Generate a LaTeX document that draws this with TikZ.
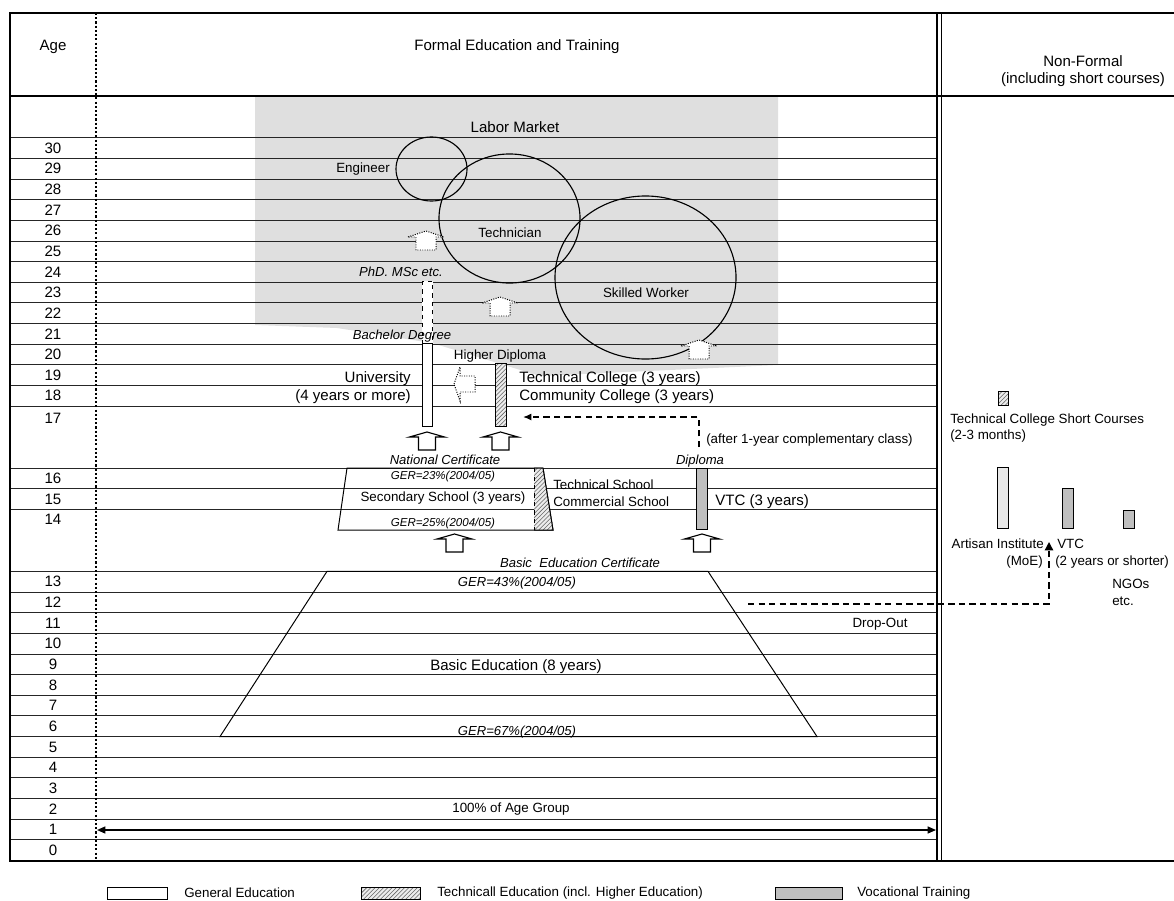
\documentclass[tikz,border=0pt]{standalone}
\usepackage{fontspec}
\setmainfont{Liberation Sans}
\usetikzlibrary{arrows.meta,patterns}
\tikzset{
  frame/.style={line width=1.8pt},
  rowline/.style={line width=0.6pt, draw=black!85},
  agelabel/.style={font=\fontsize{10.7}{12}\selectfont, inner sep=0pt},
  lbl/.style={font=\fontsize{9.5}{11}\selectfont, inner sep=0pt},
  biglbl/.style={font=\fontsize{10.7}{12.5}\selectfont, inner sep=0pt},
  itlbl/.style={font=\fontsize{9.3}{11}\selectfont\itshape, inner sep=0pt},
  gerlbl/.style={font=\fontsize{8.2}{10}\selectfont\itshape, inner sep=0pt},
  general/.style={draw, line width=0.7pt, fill=white},
  technical/.style={draw, line width=0.7pt, preaction={fill=gray!15}, pattern=north east lines, pattern color=black!60},
  vocational/.style={draw, line width=0.7pt, fill=black!25},
  artisan/.style={draw, line width=0.7pt, fill=gray!18},
  ring/.style={line width=0.8pt},
  dashconn/.style={line width=1pt, dash pattern=on 4.5pt off 3pt},
  blockup/.pic={\draw[line width=0.8pt, fill=white] (-17.5,5) -- (0,0) -- (17.5,5) -- (8.5,5) -- (8.5,18) -- (-8.5,18) -- (-8.5,5) -- cycle;},
  dotup/.pic={\draw[line width=0.7pt, densely dotted, fill=white] (-18,6) -- (0,0) -- (18,6) -- (10,6) -- (10,19) -- (-10,19) -- (-10,6) -- cycle;},
  dotleft/.pic={\draw[line width=0.7pt, densely dotted, fill=white] (0,0) -- (6,-17) -- (6,-8) -- (21,-8) -- (21,8) -- (6,8) -- (6,17) -- cycle;}
}

\begin{document}
\begin{tikzpicture}[x=0.025cm, y=-0.025cm]
  \useasboundingbox (0,0) rectangle (1174,900);
  \clip (0,0) rectangle (1174,900);

  \fill[gray!25] (255,96) -- (778,96) -- (778,365) -- (540,376) -- (432,343) -- (337,328) -- (255,325) -- cycle;

  \foreach \i in {0,...,13} \draw[rowline] (10,{137.7+\i*20.65}) -- (937,{137.7+\i*20.65});
  \foreach \yy in {468.1,488.75,509.4} \draw[rowline] (10,\yy) -- (937,\yy);
  \foreach \i in {0,...,13} \draw[rowline] (10,{571.35+\i*20.65}) -- (937,{571.35+\i*20.65});

  \draw[frame] (10,13) rectangle (1185,861);
  \draw[line width=1.3pt] (10,96) -- (1185,96);
  \draw[line width=1.6pt, dash pattern=on 1.5pt off 1.5pt] (96,13) -- (96,861);
  \draw[line width=1pt] (937,13) -- (937,861);
  \draw[line width=1pt] (941.5,13) -- (941.5,861);

  \node[agelabel] (hage) at (53,47) {Age};
  \node[biglbl] (hformal) at (517,47) {Formal Education and Training};
  \node[biglbl, align=center] (hnonformal) at (1083,71) {Non-Formal\\(including short courses)};

  \foreach \a [count=\i from 0] in {30,29,...,18} \node[agelabel] (age\a) at (53,{148+\i*20.65}) {\a};
  \node[agelabel] (age17) at (53,418) {17};
  \node[agelabel] (age16) at (53,478.4) {16};
  \node[agelabel] (age15) at (53,499) {15};
  \node[agelabel] (age14) at (53,519.7) {14};
  \foreach \a [count=\i from 0] in {13,12,...,0} \node[agelabel] (age\a) at (53,{581.7+\i*20.65}) {\a};

  \draw[ring] (431.5,169) ellipse [x radius=0.8875cm, y radius=0.8cm];
  \draw[ring] (509.5,218.5) ellipse [x radius=1.7625cm, y radius=1.6125cm];
  \draw[ring] (645.5,277.5) ellipse [x radius=2.2625cm, y radius=2.0375cm];

  \pic at (426,231) {dotup};
  \pic at (500,297) {dotup};
  \pic at (699,340) {dotup};
  \pic at (454,384) {dotleft};

  \draw[line width=0.7pt, dashed, fill=white] (422,281) rectangle (432.7,343);
  \draw[general] (422,343) rectangle (432.7,426);
  \draw[technical] (495,363) rectangle (506,426);

  \pic at (427,432) {blockup};
  \pic at (500.5,432) {blockup};
  \pic at (454.5,534) {blockup};
  \pic at (702,534) {blockup};

  \draw[line width=0.7pt] (347,468.1) -- (543,468.1) -- (553,530) -- (338,530) -- cycle;
  \draw[technical] (534,468.1) -- (543,468.1) -- (553,530) -- (534,530);
  \draw[line width=0.7pt, dashed] (534,468.1) -- (534,530);
  \draw[vocational] (696,468) rectangle (707,529);

  \draw[line width=0.7pt] (327,571.35) -- (708,571.35) -- (817,736.55) -- (220,736.55) -- cycle;

  \node[biglbl] (market) at (515,127) {Labor Market};
  \node[lbl] (engineer) at (363,169) {Engineer};
  \node[lbl] (technician) at (510,233) {Technician};
  \node[lbl] (skilled) at (646,293) {Skilled Worker};
  \node[itlbl] (phd) at (401,272) {PhD. MSc etc.};
  \node[itlbl] (bachelor) at (402,336) {Bachelor Degree};
  \node[lbl] (hdiploma) at (500,356) {Higher Diploma};
  \node[biglbl, anchor=east] (univ) at (411,379) {University};
  \node[biglbl, anchor=east] (univyrs) at (411,397) {(4 years or more)};
  \node[biglbl, anchor=west] (tcollege) at (519,379) {Technical College (3 years)};
  \node[biglbl, anchor=west] (ccollege) at (519,397) {Community College (3 years)};
  \node[lbl, anchor=west] (compl) at (706,440) {(after 1-year complementary class)};
  \node[itlbl] (natcert) at (445,460) {National Certificate};
  \node[itlbl] (diploma) at (700,461) {Diploma};
  \node[gerlbl] (ger23) at (443,477) {GER=23\%(2004/05)};
  \node[lbl] (secondary) at (443,498) {Secondary School (3 years)};
  \node[gerlbl] (ger25) at (443,524) {GER=25\%(2004/05)};
  \node[lbl, anchor=west] (techschool) at (553,485) {Technical School};
  \node[lbl, anchor=west] (commschool) at (553,502) {Commercial School};
  \node[biglbl, anchor=west] (vtc) at (715,502) {VTC (3 years)};
  \node[itlbl] (basiccert) at (580,563) {Basic\ \ Education Certificate};
  \node[itlbl] (ger43) at (517,583) {GER=43\%(2004/05)};
  \node[biglbl] (basic) at (516,667) {Basic Education (8 years)};
  \node[itlbl] (ger67) at (517,732) {GER=67\%(2004/05)};
  \node[lbl] (dropout) at (880,624) {Drop-Out};
  \node[lbl] (agegroup) at (511,809) {100\% of Age Group};

  \draw[technical] (998,391) rectangle (1008,405);
  \node[lbl, anchor=west] (tcshort) at (950,420) {Technical College Short Courses};
  \node[lbl, anchor=west] (tcmonths) at (950,436) {(2-3 months)};
  \draw[artisan] (997,467) rectangle (1008,528);
  \draw[vocational] (1062,488) rectangle (1073,528);
  \draw[vocational] (1123,510) rectangle (1134,528);
  \node[lbl, anchor=east] (artisan) at (1044,544) {Artisan Institute};
  \node[lbl, anchor=east] (moe) at (1043,562) {(MoE)};
  \node[lbl, anchor=west] (nfvtc) at (1057,544) {VTC};
  \node[lbl, anchor=west] (nfvtcyrs) at (1055,562) {(2 years or shorter)};
  \node[lbl, anchor=west] (ngos) at (1112,584) {NGOs};
  \node[lbl, anchor=west] (etc) at (1112,601) {etc.};

  \coordinate (cmpS) at (699,447);
  \coordinate (cmpE) at (523,417);
  \draw[dashconn, -{Latex[length=6pt, width=5pt]}] (cmpS) |- (cmpE);
  \coordinate (dropS) at (748,604);
  \coordinate (dropE) at (1049,542);
  \draw[dashconn, -{Triangle[length=6pt, width=6pt]}] (dropS) -| (dropE);
  \coordinate (yrL) at (97,830);
  \coordinate (yrR) at (936,830);
  \draw[line width=1pt, {Triangle[length=6pt, width=5pt]}-{Triangle[length=6pt, width=5pt]}] (yrL) -- (yrR);

  \draw[general] (107,887) rectangle (167,899);
  \node[lbl, anchor=west] (leggen) at (184,893) {General Education};
  \draw[technical] (361,887) rectangle (420,899);
  \node[lbl, anchor=west] (legtech) at (437,893) {Technicall Education (incl. Higher Education)};
  \draw[vocational] (775,887) rectangle (842,899);
  \node[lbl, anchor=west] (legvoc) at (857,893) {Vocational Training};
\end{tikzpicture}
\end{document}
